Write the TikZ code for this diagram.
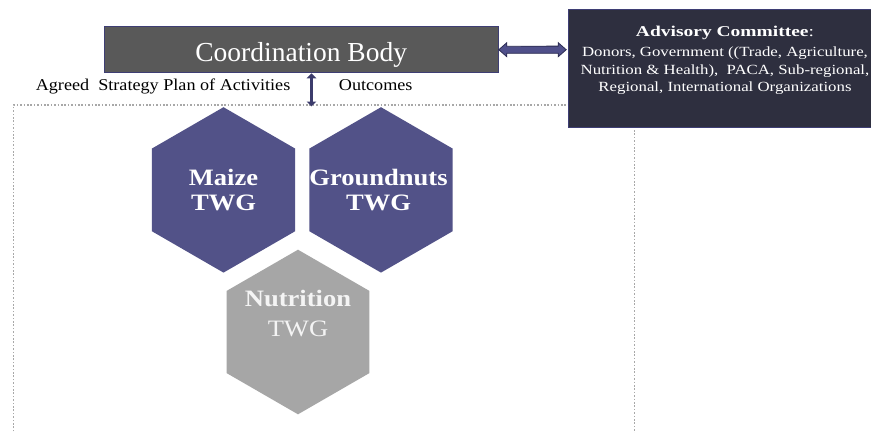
\documentclass[tikz,border=0pt]{standalone}
\usepackage{fontspec}
\setmainfont{Liberation Serif}
\newfontfamily\lblfont[FakeStretch=1.1]{Liberation Serif}
\newfontfamily\hexfont[FakeStretch=1.13]{Liberation Serif}
\newfontfamily\advbodyfont[FakeStretch=1.2]{Liberation Serif}
\newfontfamily\advheadfont[FakeStretch=1.3]{Liberation Serif}
\usetikzlibrary{arrows.meta,calc}
\definecolor{hexpurple}{HTML}{525288}
\definecolor{hexgray}{HTML}{A6A6A6}
\definecolor{cbfill}{HTML}{595959}
\definecolor{navyline}{HTML}{3E3E74}
\definecolor{advfill}{HTML}{2E2F3F}
\definecolor{arrowfill}{HTML}{50508A}
\definecolor{arrowdark}{HTML}{2C2C52}
\definecolor{varrowcol}{HTML}{3C3C6C}
\definecolor{dotgray}{HTML}{A8A8A8}
\definecolor{offwhite}{HTML}{F4F4F4}
\tikzset{
  dotframe/.style={draw=dotgray, line width=1.8pt, dash pattern=on 1.6pt off 1.8pt},
  cbbox/.style={fill=cbfill, draw=navyline, line width=1.2pt, minimum width=394pt, minimum height=46pt, inner sep=0pt},
  cbtext/.style={text=white, font=\fontsize{27.5}{30}\selectfont, inner sep=0pt},
  lbl/.style={text=black, font=\lblfont\fontsize{16.5}{18}\selectfont, inner sep=0pt},
  advbox/.style={fill=advfill, draw=navyline, line width=1pt, minimum width=314pt, minimum height=118pt, inner sep=0pt},
  advhead/.style={text=white, font=\advheadfont\fontsize{15}{17}\selectfont, inner sep=0pt},
  advbody/.style={text=white, font=\advbodyfont\fontsize{14}{17}\selectfont, inner sep=0pt},
  hextext/.style={text=white, align=center, inner sep=0pt, font=\hexfont\fontsize{23.5}{24.5}\selectfont},
  nutrtext/.style={text=offwhite, align=center, inner sep=0pt, font=\hexfont\fontsize{23.5}{30}\selectfont},
  blockarrow/.style={fill=arrowfill, draw=arrowdark, line width=0.8pt, line join=miter},
  varrow/.style={draw=varrowcol, line width=3pt, {Triangle[length=5pt,width=9.5pt]}-{Triangle[length=5pt,width=9.5pt]}}
}
\begin{document}
\begin{tikzpicture}[x=1pt,y=-1pt]
\useasboundingbox (0,0) rectangle (871,432);
\fill[white] (0,0) rectangle (871,432);

% dotted frame
\coordinate (fbl) at (13.5,445);
\coordinate (ftl) at (13.5,105);
\coordinate (ftr) at (634.5,105);
\coordinate (fbr) at (634.5,445);
\draw[dotframe] (fbl) -- (ftl) -- (ftr) -- (fbr);

% coordination body
\node[cbbox] (cb) at (301.2,49.7) {};
\node[cbtext, anchor=base] (cbt) at ($(cb.center)+(0,12)$) {Coordination Body};

% labels
\node[lbl, anchor=base west] (agreed) at (35.6,90.7) {Agreed\ \ Strategy Plan of Activities};
\node[lbl, anchor=base west] (outc) at (338.7,90.7) {Outcomes};

% advisory committee
\node[advbox] (adv) at (725.7,68) {};
\node[advhead, anchor=base] (advh) at (725,36.7) {\textbf{Advisory Committee}:};
\node[advbody, anchor=base] (adv1) at (725,56.7) {Donors, Government ((Trade, Agriculture,};
\node[advbody, anchor=base] (adv2) at (725,74.2) {Nutrition \& Health),\ \ PACA, Sub-regional,};
\node[advbody, anchor=base] (adv3) at (725,91.7) {Regional, International Organizations};

% horizontal block double arrow
\coordinate (ha) at (cb.east);
\coordinate (hb) at ($(adv.west |- cb.east)+(-2,0)$);
\draw[blockarrow] (ha) -- ++(8,-7) -- ++(0,3.6) -- ($(hb)+(-8,-3.6)$) -- ++(0,-3.4) -- (hb) -- ++(-8,7) -- ++(0,-3.4) -- ($(ha)+(8,3.6)$) -- ++(0,3.4) -- cycle;

% vertical double arrow
\coordinate (vb) at (311.5,106.5);
\draw[varrow] (cb.south -| vb) -- (vb);

% hexagons
\fill[hexpurple] (223.5,189.9) ++(0,-82.7) -- ++(71.6,41.35) -- ++(0,82.7) -- ++(-71.6,41.35) -- ++(-71.6,-41.35) -- ++(0,-82.7) -- cycle;
\fill[hexpurple] (381,189.9) ++(0,-82.7) -- ++(71.6,41.35) -- ++(0,82.7) -- ++(-71.6,41.35) -- ++(-71.6,-41.35) -- ++(0,-82.7) -- cycle;
\fill[hexgray] (298,332) ++(0,-82.3) -- ++(71.3,41.15) -- ++(0,82.3) -- ++(-71.3,41.15) -- ++(-71.3,-41.15) -- ++(0,-82.3) -- cycle;

\node[hextext] (maize) at (223.5,190) {\textbf{Maize}\\\textbf{TWG}};
\node[hextext] (gnut) at (378.5,190) {\textbf{Groundnuts}\\\textbf{TWG}};
\node[nutrtext] (nutr) at (298,313.6) {\textbf{Nutrition}\\TWG};
\end{tikzpicture}
\end{document}
